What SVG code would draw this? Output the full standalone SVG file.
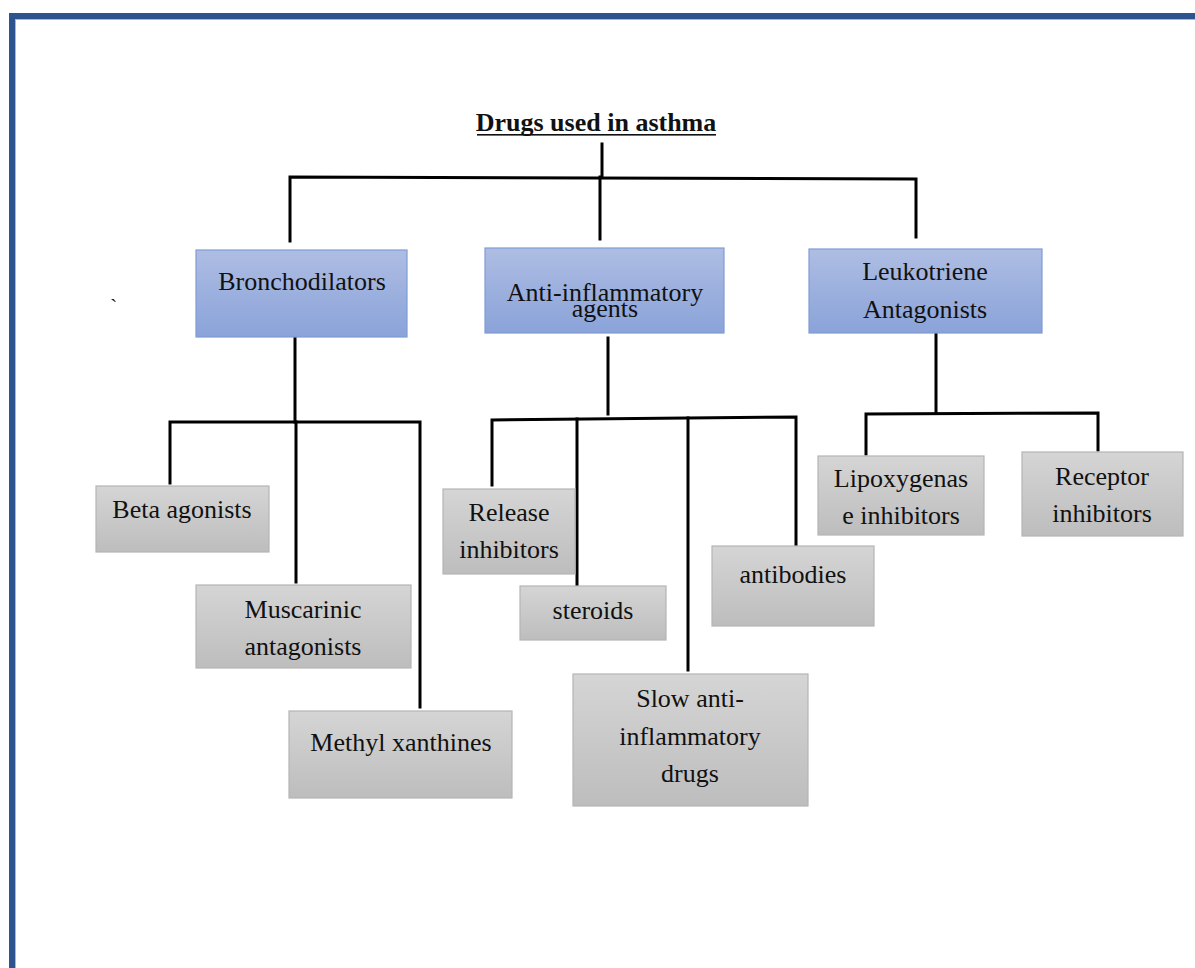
<svg xmlns="http://www.w3.org/2000/svg" width="1195" height="968" viewBox="0 0 1195 968">
<defs>
<linearGradient id="gBlue" x1="0" y1="0" x2="0" y2="1">
<stop offset="0" stop-color="#AEBDE3"/>
<stop offset="1" stop-color="#8AA3D9"/>
</linearGradient>
<linearGradient id="gGray" x1="0" y1="0" x2="0" y2="1">
<stop offset="0" stop-color="#D5D5D5"/>
<stop offset="1" stop-color="#BDBDBD"/>
</linearGradient>
</defs>
<style>
.blue{fill:url(#gBlue);stroke:#7F9CD6;stroke-width:1.2}
.gray{fill:url(#gGray);stroke:#B5B5B5;stroke-width:1.2}
.t{font-family:"Liberation Serif","Times New Roman",serif;font-size:26px;fill:#111;text-anchor:middle}
.c{fill:none;stroke:#000;stroke-width:3;stroke-linecap:square}
</style>
<rect x="0" y="0" width="1195" height="968" fill="#fff"/>
<rect x="9" y="13" width="1186" height="6" fill="#2E5490"/>
<rect x="9" y="13" width="6" height="955" fill="#2E5490"/>
<rect x="15" y="19" width="1180" height="1" fill="#A9B7D6"/>
<rect x="15" y="19" width="1" height="949" fill="#A9B7D6"/>

<g id="title">
<text x="596" y="131" style="font-family:'Liberation Serif','Times New Roman',serif;font-size:26px;font-weight:bold;text-anchor:middle;fill:#111">Drugs used in asthma</text>
<rect x="477" y="134" width="239" height="1.6" fill="#111"/>
</g>
<text x="110" y="314" style="font-family:'Liberation Serif',serif;font-size:22px;fill:#111">`</text>

<g id="connectors">
<path class="c" d="M602 144 V177"/>
<path class="c" d="M290 241 V177 L916 179 V237"/>
<path class="c" d="M600 177 V239"/>
<path class="c" d="M295 338 V422"/>
<path class="c" d="M170 483 V422 H420 V707"/>
<path class="c" d="M296 422 V582"/>
<path class="c" d="M608 338 V414"/>
<path class="c" d="M492 485 V420 L796 417 V545"/>
<path class="c" d="M577 419 V585"/>
<path class="c" d="M688 418 V670"/>
<path class="c" d="M936 334 V413"/>
<path class="c" d="M866 454 V414 L1098 413 V450"/>
</g>

<g id="bronchodilators">
<rect class="blue" x="196" y="250" width="211" height="87"/>
<text class="t" x="302" y="290">Bronchodilators</text>
</g>
<g id="anti-inflammatory">
<rect class="blue" x="485" y="248" width="239" height="85"/>
<text class="t" x="605" y="301">Anti-inflammatory</text>
<text class="t" x="605" y="317">agents</text>
</g>
<g id="leukotriene">
<rect class="blue" x="809" y="249" width="233" height="84"/>
<text class="t" x="925" y="280">Leukotriene</text>
<text class="t" x="925" y="318">Antagonists</text>
</g>

<g id="beta-agonists">
<rect class="gray" x="96" y="486" width="173" height="66"/>
<text class="t" x="182" y="518">Beta agonists</text>
</g>
<g id="muscarinic">
<rect class="gray" x="196" y="585" width="215" height="83"/>
<text class="t" x="303" y="618">Muscarinic</text>
<text class="t" x="303" y="655">antagonists</text>
</g>
<g id="methyl-xanthines">
<rect class="gray" x="289" y="711" width="223" height="87"/>
<text class="t" x="401" y="751">Methyl xanthines</text>
</g>

<g id="release-inhibitors">
<rect class="gray" x="443" y="489" width="132" height="85"/>
<text class="t" x="509" y="521">Release</text>
<text class="t" x="509" y="558">inhibitors</text>
</g>
<g id="steroids">
<rect class="gray" x="520" y="586" width="146" height="54"/>
<text class="t" x="593" y="619">steroids</text>
</g>
<g id="slow-anti-inflammatory">
<rect class="gray" x="573" y="674" width="235" height="132"/>
<text class="t" x="690" y="707">Slow anti-</text>
<text class="t" x="690" y="745">inflammatory</text>
<text class="t" x="690" y="782">drugs</text>
</g>
<g id="antibodies">
<rect class="gray" x="712" y="546" width="162" height="80"/>
<text class="t" x="793" y="583">antibodies</text>
</g>

<g id="lipoxygenase">
<rect class="gray" x="818" y="456" width="166" height="79"/>
<text class="t" x="901" y="487">Lipoxygenas</text>
<text class="t" x="901" y="524">e inhibitors</text>
</g>
<g id="receptor-inhibitors">
<rect class="gray" x="1022" y="452" width="161" height="84"/>
<text class="t" x="1102" y="485">Receptor</text>
<text class="t" x="1102" y="522">inhibitors</text>
</g>
</svg>
